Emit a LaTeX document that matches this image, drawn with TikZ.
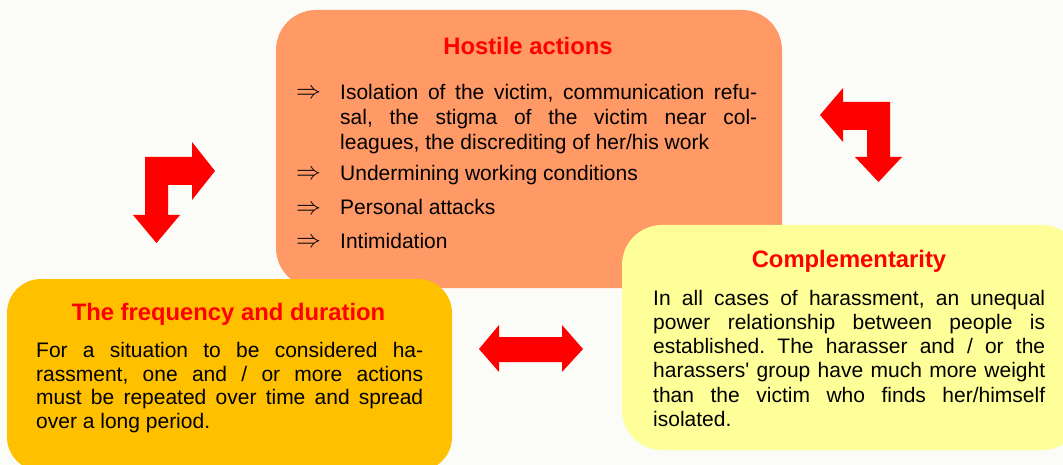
\documentclass[tikz,border=0pt]{standalone}
\usepackage{fontspec}
\setmainfont{Liberation Sans}
\definecolor{bgc}{RGB}{251,251,248}
\definecolor{hostilec}{RGB}{255,153,102}
\definecolor{freqc}{RGB}{255,192,0}
\definecolor{complc}{RGB}{255,255,153}
\definecolor{redc}{RGB}{255,0,0}
\newcommand\bodyfnt{\fontsize{21}{25}\selectfont\frenchspacing}
\newcommand\titlefnt{\fontsize{23.8}{28}\selectfont\bfseries}
\newcommand\bulletarrow{\fontsize{26.5}{30}\selectfont\raisebox{1pt}{$\Rightarrow$}}
\tikzset{
  panel/.style={rectangle, rounded corners=40pt, draw=none, inner sep=0pt},
  ttl/.style={font=\titlefnt, text=redc, anchor=base, inner sep=0pt},
  bodyline/.style={font=\bodyfnt, anchor=base west, inner sep=0pt},
  arrowmark/.style={anchor=base west, inner sep=0pt},
  blockarrow/.style={fill=redc, draw=none},
}
\begin{document}
\begin{tikzpicture}[x=1pt,y=-1pt]
\fill[bgc] (0,0) rectangle (1063,465);
\useasboundingbox (0,0) rectangle (1063,465);
\begin{scope}
\clip (0,0) rectangle (1063,465);
% panels
\node[panel, fill=hostilec, minimum width=506pt, minimum height=278pt] (hostile) at (529,149) {};
\node[panel, fill=freqc, minimum width=445pt, minimum height=192pt, rounded corners=34pt] (freq) at (229.5,375) {};
\node[panel, fill=complc, minimum width=460pt, minimum height=225pt] (compl) at (852,337.5) {};
\end{scope}
% Hostile actions
\node[ttl] (t1) at (528,55) {Hostile actions};
\node[arrowmark] (h1a) at (296,100) {\bulletarrow};
\node[bodyline] (h1) at (340,100) {\makebox[417pt][s]{Isolation of the victim, communication refu-}};
\node[bodyline] (h2) at (340,125) {\makebox[417pt][s]{sal, the stigma of the victim near col-}};
\node[bodyline] (h3) at (340,150) {leagues, the discrediting of her/his work};
\node[arrowmark] (h4a) at (296,181) {\bulletarrow};
\node[bodyline] (h4) at (340,181) {Undermining working conditions};
\node[arrowmark] (h5a) at (296,215) {\bulletarrow};
\node[bodyline] (h5) at (340,215) {Personal attacks};
\node[arrowmark] (h6a) at (296,248) {\bulletarrow};
\node[bodyline] (h6) at (340,248) {Intimidation};
% Frequency
\node[ttl] (t2) at (228.5,320) {The frequency and duration};
\node[bodyline] (f1) at (36,357) {\makebox[387pt][s]{For a situation to be considered ha-}};
\node[bodyline] (f2) at (36,381) {\makebox[387pt][s]{rassment, one and / or more actions}};
\node[bodyline] (f3) at (36,404.5) {\makebox[387pt][s]{must be repeated over time and spread}};
\node[bodyline] (f4) at (36,428) {over a long period.};
% Complementarity
\node[ttl] (t3) at (849,267) {Complementarity};
\node[bodyline] (c1) at (653,305) {\makebox[392pt][s]{In all cases of harassment, an unequal}};
\node[bodyline] (c2) at (653,329) {\makebox[392pt][s]{power relationship between people is}};
\node[bodyline] (c3) at (653,353) {\makebox[392pt][s]{established. The harasser and / or the}};
\node[bodyline] (c4) at (653,377) {\makebox[392pt][s]{harassers\textquotesingle{} group have much more weight}};
\node[bodyline] (c5) at (653,402) {\makebox[392pt][s]{than the victim who finds her/himself}};
\node[bodyline] (c6) at (653,426) {isolated.};
% block arrows
\fill[blockarrow] (145,215) -- (145,157) -- (192,157) -- (192,142) -- (215,171) -- (192,200) -- (192,185) -- (168,185) -- (168,215) -- (180,215) -- (156.5,243) -- (133,215) -- cycle;
\fill[blockarrow] (843,88) -- (820,115) -- (843,142) -- (843,130) -- (867,130) -- (867,157) -- (855,157) -- (878.5,182) -- (902,157) -- (890,157) -- (890,102) -- (843,102) -- cycle;
\fill[blockarrow] (479,349) -- (499,325) -- (499,337) -- (562,337) -- (562,325) -- (583,349) -- (562,372) -- (562,362) -- (499,362) -- (499,372) -- cycle;
\end{tikzpicture}
\end{document}
